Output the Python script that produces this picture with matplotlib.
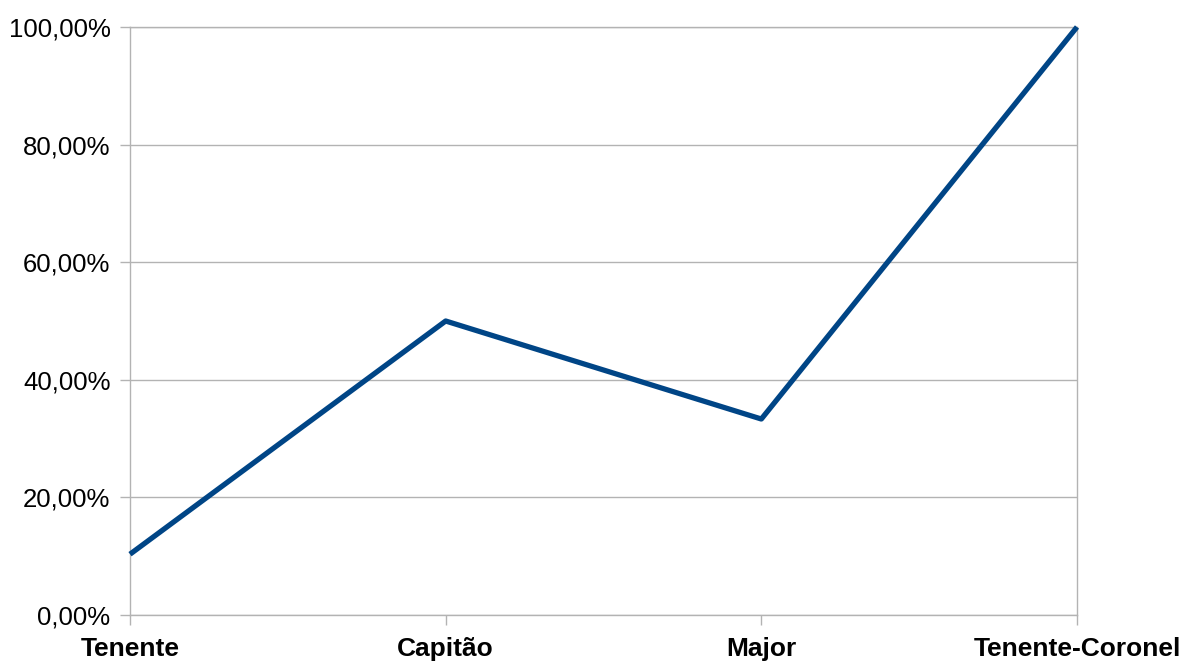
import matplotlib.pyplot as plt
import matplotlib.ticker as mticker

plt.rcParams['font.family'] = ['Liberation Sans', 'DejaVu Sans']

categories = ['Tenente', 'Capitão', 'Major', 'Tenente-Coronel']
values = [0.1034, 0.50, 0.3333, 1.00]
yticks = [0.0, 0.2, 0.4, 0.6, 0.8, 1.0]

fig = plt.figure(figsize=(11.94, 6.62), dpi=100)
ax = fig.add_axes([130/1194, 1 - 615/662, (1077-130)/1194, (615-27)/662])

x = list(range(len(categories)))
ax.plot(x, values, color='#004586', linewidth=3.8, solid_capstyle='butt', clip_on=False, zorder=3)

ax.set_xlim(0, len(categories) - 1)
ax.set_ylim(0, 1)
ax.set_xticks(x)
ax.set_xticklabels(categories, fontsize=19, fontweight='bold')
ax.set_yticks(yticks)
ax.yaxis.set_major_formatter(mticker.FuncFormatter(lambda v, p: ('%.2f%%' % (v*100)).replace('.', ',')))
ax.tick_params(axis='y', labelsize=18.5, length=7, width=1, color='#b3b3b3', pad=7)
ax.tick_params(axis='x', length=7, width=1, color='#b3b3b3', pad=9)
ax.grid(axis='y', color='#b3b3b3', linewidth=1)
ax.set_axisbelow(True)
for s in ax.spines.values():
    s.set_color('#b3b3b3')
    s.set_linewidth(1)

fig.savefig('out.png', dpi=100)
